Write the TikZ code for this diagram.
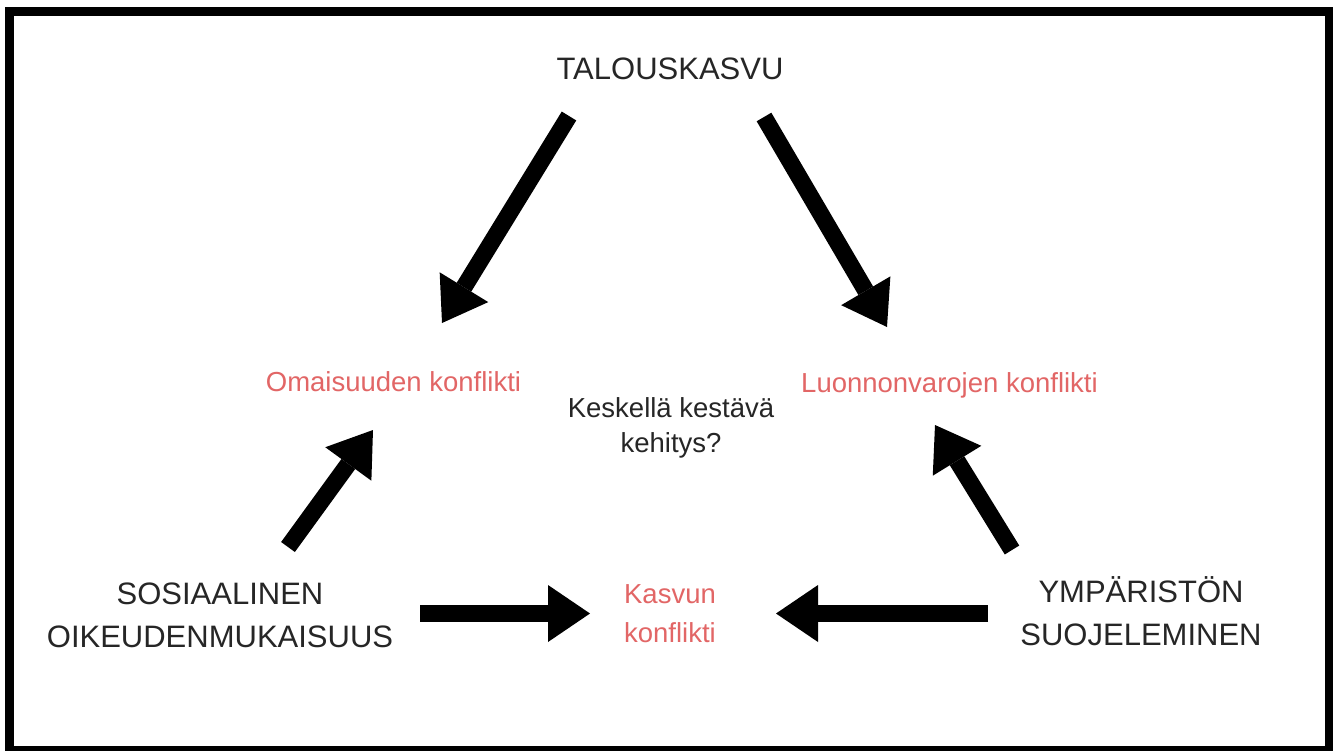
\documentclass[tikz,border=0pt]{standalone}
\usepackage{fontspec}
\setmainfont{Liberation Sans}
\usetikzlibrary{arrows.meta}
\definecolor{ink}{RGB}{38,38,38}
\definecolor{conf}{RGB}{226,102,102}
\begin{document}
\begin{tikzpicture}[x=1pt,y=-1pt,
  title/.style={font=\fontsize{31}{43}\selectfont, text=ink, inner sep=0pt, align=center, anchor=base},
  conflict/.style={font=\fontsize{27.5}{39}\selectfont, text=conf, inner sep=0pt, align=center, anchor=base},
  middle/.style={font=\fontsize{27.5}{35}\selectfont, text=ink, inner sep=0pt, align=center, anchor=base},
  bigarrow/.style={line width=17pt, line cap=butt, -{Triangle[length=42pt,width=57pt,line width=0pt]}},
  frame/.style={line width=9pt, draw=black}
]
\useasboundingbox (0,0) rectangle (1333,750);
\fill[white] (0,0) rectangle (1333,750);
\draw[frame] (9.5,11.5) rectangle (1329.5,750.5);

% texts (base anchor = baseline of the last line)
\node[title] (talous) at (670,79) {TALOUSKASVU};
\node[title] (sosiaal) at (220,647) {SOSIAALINEN\\OIKEUDENMUKAISUUS};
\node[title] (ymp) at (1141,645) {YMPÄRISTÖN\\SUOJELEMINEN};
\node[conflict] (omaisuus) at (393.5,391) {Omaisuuden konflikti};
\node[conflict] (luonnon) at (949.5,392) {Luonnonvarojen konflikti};
\node[conflict] (kasvu) at (670,642) {Kasvun\\konflikti};
\node[middle] (keski) at (671,452) {Keskellä kestävä\\kehitys?};

% arrow end points
\coordinate (a1s) at (569,116); \coordinate (a1e) at (442,323);
\coordinate (a2s) at (764,117); \coordinate (a2e) at (887,327);
\coordinate (a3s) at (288,547); \coordinate (a3e) at (373,430);
\coordinate (a4s) at (1012,550); \coordinate (a4e) at (935,425);
\coordinate (a5s) at (420,613.5); \coordinate (a5e) at (590,613.5);
\coordinate (a6s) at (988,613.5); \coordinate (a6e) at (776,613.5);

\draw[bigarrow] (a1s) -- (a1e);
\draw[bigarrow] (a2s) -- (a2e);
\draw[bigarrow] (a3s) -- (a3e);
\draw[bigarrow] (a4s) -- (a4e);
\draw[bigarrow] (a5s) -- (a5e);
\draw[bigarrow] (a6s) -- (a6e);
\end{tikzpicture}
\end{document}
